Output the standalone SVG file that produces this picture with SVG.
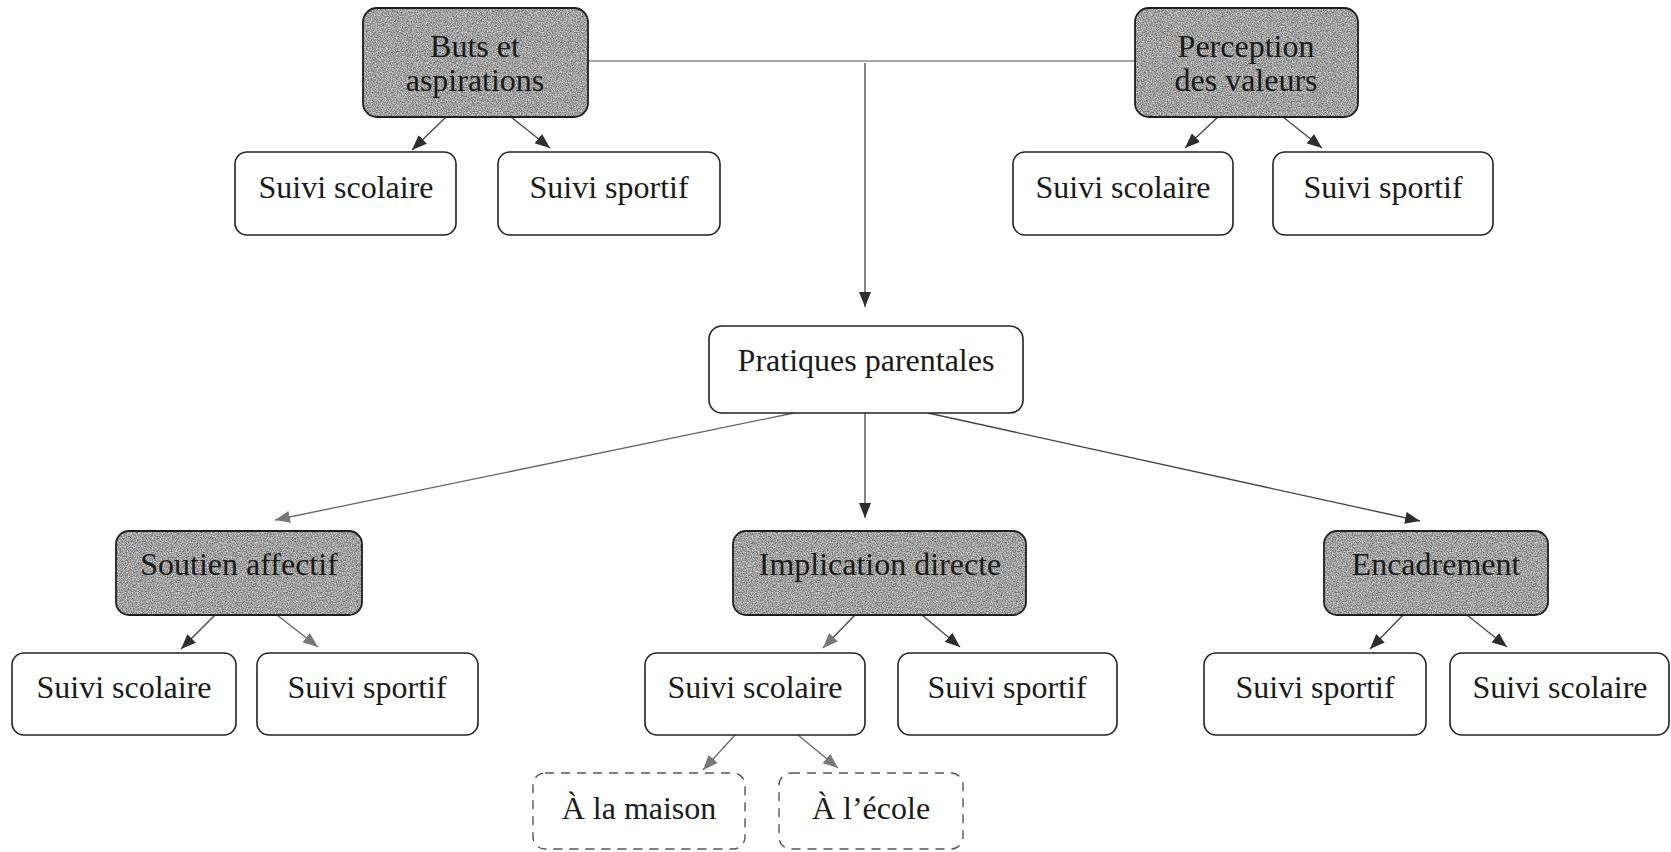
<svg xmlns="http://www.w3.org/2000/svg" width="1671" height="852" viewBox="0 0 1671 852">
  <style>
    .box { fill: #ffffff; stroke: #222222; stroke-width: 1.6; }
    .dark-fill { fill: #9d9d9d; }
    .dark-edge { fill: none; stroke: #1e1e1e; stroke-width: 1.8; }
    .dashed { fill: #ffffff; stroke: #555555; stroke-width: 1.4; stroke-dasharray: 9 7; }
    .label { font-family: "Liberation Serif", "Times New Roman", serif; font-size: 32px; fill: #1a1a1a; text-anchor: middle; }
    .link { fill: none; stroke: #444444; stroke-width: 1.3; }
    .link-grey { fill: none; stroke: #666666; stroke-width: 1.3; }
    .rail { fill: none; stroke: #a8a8a8; stroke-width: 2; }
  </style>
  <defs>
    <!-- speckled grey texture for the category boxes -->
    <filter id="grain" x="0" y="0" width="100%" height="100%" color-interpolation-filters="sRGB">
      <feTurbulence type="fractalNoise" baseFrequency="0.8" numOctaves="2" seed="7" result="noise"/>
      <feColorMatrix in="noise" type="matrix" values="0.8 0 0 0 0.23  0.8 0 0 0 0.23  0.8 0 0 0 0.23  0 0 0 0 1" result="grey"/>
      <feComposite in="grey" in2="SourceGraphic" operator="in"/>
    </filter>
    <marker id="arrow" markerUnits="userSpaceOnUse" markerWidth="16" markerHeight="12" refX="15" refY="6" orient="auto">
      <path d="M0,0 L15,6 L0,12 z" fill="#2e2e2e"/>
    </marker>
    <marker id="arrow-grey" markerUnits="userSpaceOnUse" markerWidth="16" markerHeight="12" refX="15" refY="6" orient="auto">
      <path d="M0,0 L15,6 L0,12 z" fill="#777777"/>
    </marker>
  </defs>

  <g id="connectors">
    <!-- top rail joining the two upper categories -->
    <line class="rail" x1="588" y1="61" x2="1135" y2="61"/>
    <line class="link" x1="865" y1="63" x2="865" y2="307" marker-end="url(#arrow)"/>
    <!-- Buts et aspirations -->
    <line class="link" x1="446" y1="117" x2="412" y2="150" marker-end="url(#arrow)"/>
    <line class="link" x1="511" y1="117" x2="550" y2="148" marker-end="url(#arrow)"/>
    <!-- Perception des valeurs -->
    <line class="link" x1="1218" y1="117" x2="1185" y2="148" marker-end="url(#arrow)"/>
    <line class="link" x1="1283" y1="117" x2="1322" y2="148" marker-end="url(#arrow)"/>
    <!-- Pratiques parentales -->
    <line class="link-grey" x1="794" y1="413" x2="275" y2="520" marker-end="url(#arrow-grey)"/>
    <line class="link" x1="865" y1="413" x2="865" y2="518" marker-end="url(#arrow)"/>
    <line class="link" x1="928" y1="413" x2="1420" y2="521" marker-end="url(#arrow)"/>
    <!-- Soutien affectif -->
    <line class="link" x1="215" y1="615" x2="181" y2="649" marker-end="url(#arrow)"/>
    <line class="link-grey" x1="277" y1="615" x2="318" y2="647" marker-end="url(#arrow-grey)"/>
    <!-- Implication directe -->
    <line class="link" x1="855" y1="615" x2="823" y2="648" marker-end="url(#arrow-grey)"/>
    <line class="link" x1="922" y1="615" x2="960" y2="647" marker-end="url(#arrow)"/>
    <!-- Encadrement -->
    <line class="link" x1="1403" y1="615" x2="1370" y2="649" marker-end="url(#arrow)"/>
    <line class="link" x1="1467" y1="615" x2="1507" y2="647" marker-end="url(#arrow)"/>
    <!-- Suivi scolaire under Implication directe -->
    <line class="link-grey" x1="735" y1="735" x2="703" y2="770" marker-end="url(#arrow-grey)"/>
    <line class="link-grey" x1="798" y1="735" x2="838" y2="768" marker-end="url(#arrow-grey)"/>
  </g>

  <g id="buts-aspirations">
    <rect class="dark-fill" x="363" y="8" width="225" height="109" rx="14" filter="url(#grain)"/>
    <rect class="dark-edge" x="363" y="8" width="225" height="109" rx="14"/>
    <text class="label" x="475" y="57">Buts et</text>
    <text class="label" x="475" y="91">aspirations</text>
  </g>
  <g id="perception-valeurs">
    <rect class="dark-fill" x="1135" y="8" width="223" height="109" rx="14" filter="url(#grain)"/>
    <rect class="dark-edge" x="1135" y="8" width="223" height="109" rx="14"/>
    <text class="label" x="1246" y="57">Perception</text>
    <text class="label" x="1246" y="91">des valeurs</text>
  </g>
  <g id="buts-suivi-scolaire">
    <rect class="box" x="235" y="152" width="221" height="83" rx="12"/>
    <text class="label" x="346" y="198">Suivi scolaire</text>
  </g>
  <g id="buts-suivi-sportif">
    <rect class="box" x="498" y="152" width="222" height="83" rx="12"/>
    <text class="label" x="609" y="198">Suivi sportif</text>
  </g>
  <g id="perception-suivi-scolaire">
    <rect class="box" x="1013" y="152" width="220" height="83" rx="12"/>
    <text class="label" x="1123" y="198">Suivi scolaire</text>
  </g>
  <g id="perception-suivi-sportif">
    <rect class="box" x="1273" y="152" width="220" height="83" rx="12"/>
    <text class="label" x="1383" y="198">Suivi sportif</text>
  </g>

  <g id="pratiques-parentales">
    <rect class="box" x="709" y="326" width="314" height="87" rx="13"/>
    <text class="label" x="866" y="371">Pratiques parentales</text>
  </g>

  <g id="soutien-affectif">
    <rect class="dark-fill" x="116" y="531" width="246" height="84" rx="13" filter="url(#grain)"/>
    <rect class="dark-edge" x="116" y="531" width="246" height="84" rx="13"/>
    <text class="label" x="239" y="575">Soutien affectif</text>
  </g>
  <g id="implication-directe">
    <rect class="dark-fill" x="733" y="531" width="293" height="84" rx="13" filter="url(#grain)"/>
    <rect class="dark-edge" x="733" y="531" width="293" height="84" rx="13"/>
    <text class="label" x="880" y="575">Implication directe</text>
  </g>
  <g id="encadrement">
    <rect class="dark-fill" x="1324" y="531" width="224" height="84" rx="13" filter="url(#grain)"/>
    <rect class="dark-edge" x="1324" y="531" width="224" height="84" rx="13"/>
    <text class="label" x="1436" y="575">Encadrement</text>
  </g>

  <g id="soutien-suivi-scolaire">
    <rect class="box" x="12" y="653" width="224" height="82" rx="12"/>
    <text class="label" x="124" y="698">Suivi scolaire</text>
  </g>
  <g id="soutien-suivi-sportif">
    <rect class="box" x="257" y="653" width="221" height="82" rx="12"/>
    <text class="label" x="367" y="698">Suivi sportif</text>
  </g>
  <g id="implication-suivi-scolaire">
    <rect class="box" x="645" y="653" width="220" height="82" rx="12"/>
    <text class="label" x="755" y="698">Suivi scolaire</text>
  </g>
  <g id="implication-suivi-sportif">
    <rect class="box" x="898" y="653" width="219" height="82" rx="12"/>
    <text class="label" x="1007" y="698">Suivi sportif</text>
  </g>
  <g id="encadrement-suivi-sportif">
    <rect class="box" x="1204" y="653" width="222" height="82" rx="12"/>
    <text class="label" x="1315" y="698">Suivi sportif</text>
  </g>
  <g id="encadrement-suivi-scolaire">
    <rect class="box" x="1450" y="653" width="219" height="82" rx="12"/>
    <text class="label" x="1560" y="698">Suivi scolaire</text>
  </g>

  <g id="a-la-maison">
    <rect class="dashed" x="533" y="773" width="212" height="76" rx="12"/>
    <text class="label" x="639" y="819">À la maison</text>
  </g>
  <g id="a-l-ecole">
    <rect class="dashed" x="779" y="773" width="184" height="76" rx="12"/>
    <text class="label" x="871" y="819">À l’école</text>
  </g>
</svg>
